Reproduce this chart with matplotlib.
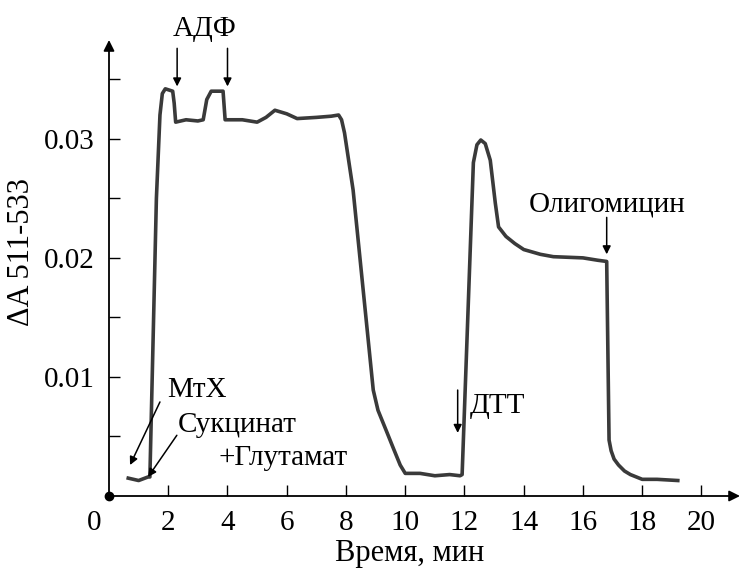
import numpy as np
import matplotlib.pyplot as plt

# trace: time (min) and absorbance difference
time_min = [0.65, 1.0, 1.32, 1.38, 1.6, 1.72, 1.8, 1.9, 2.15, 2.2, 2.25, 2.6,
            3.0, 3.18, 3.3, 3.45, 3.85, 3.92, 4.5, 5.0, 5.3, 5.6, 6.0, 6.35,
            7.0, 7.5, 7.75, 7.85, 7.95, 8.24, 8.58, 8.92, 9.08, 9.39, 9.6,
            9.83, 10.0, 10.5, 11.0, 11.5, 11.85, 11.92, 12.3, 12.42, 12.55,
            12.7, 12.87, 13.04, 13.15, 13.4, 13.7, 14.0, 14.56, 15.0, 16.0,
            16.5, 16.8, 16.88, 16.95, 17.05, 17.2, 17.4, 17.6, 17.8, 18.0,
            18.5, 19.2]
delta_a = [0.0015, 0.0013, 0.0016, 0.0016, 0.0250, 0.0320, 0.0338, 0.0342,
           0.0340, 0.0330, 0.0314, 0.0316, 0.0315, 0.0316, 0.0333, 0.0340,
           0.0340, 0.0316, 0.0316, 0.0314, 0.0318, 0.0324, 0.0321, 0.0317,
           0.0318, 0.0319, 0.0320, 0.0316, 0.0305, 0.0257, 0.0173, 0.0089,
           0.0072, 0.0053, 0.0040, 0.0026, 0.0019, 0.0019, 0.0017, 0.0018,
           0.0017, 0.0018, 0.0280, 0.0295, 0.0299, 0.0296, 0.0282, 0.0246,
           0.0226, 0.0218, 0.0212, 0.0207, 0.0203, 0.0201, 0.0200, 0.0198,
           0.0197, 0.0047, 0.0038, 0.0031, 0.0026, 0.0021, 0.0018, 0.0016,
           0.0014, 0.0014, 0.0013]

x_ticks = [2, 4, 6, 8, 10, 12, 14, 16, 18, 20]
y_major = [0.01, 0.02, 0.03]
y_minor = [0.005, 0.015, 0.025, 0.035]

plt.rcParams['font.family'] = ['Liberation Serif', 'DejaVu Serif']
fs = 21

fig = plt.figure(figsize=(7.42, 5.70), dpi=100)
ax = fig.add_axes([109 / 742, 74 / 570, 631 / 742, 456 / 570])
ax.set_xlim(0, 21.3)
ax.set_ylim(0, 0.0383)

ax.plot(time_min, delta_a, color='#3a3a3a', lw=2.6, solid_joinstyle='round')

# axes with arrow heads
for s in ['top', 'right', 'left', 'bottom']:
    ax.spines[s].set_visible(False)
ax.annotate('', xy=(1.0, 0), xytext=(0, 0), xycoords='axes fraction',
            arrowprops=dict(arrowstyle='-|>', color='black', lw=1.3,
                            mutation_scale=16, shrinkA=0, shrinkB=0))
ax.annotate('', xy=(0, 1.0), xytext=(0, 0), xycoords='axes fraction',
            arrowprops=dict(arrowstyle='-|>', color='black', lw=1.3,
                            mutation_scale=16, shrinkA=0, shrinkB=0))
ax.plot([0], [0], 'o', color='black', ms=6, clip_on=False)

ax.set_xticks(x_ticks)
ax.set_xticklabels([str(v) for v in x_ticks])
ax.set_yticks(y_major)
ax.set_yticklabels(['0.01', '0.02', '0.03'])
ax.set_yticks(y_minor, minor=True)
ax.tick_params(axis='both', which='both', direction='in', length=8,
               width=1, labelsize=fs, pad=10)
ax.annotate('0', xy=(-0.5, 0), xytext=(0, -10), textcoords='offset points',
            fontsize=fs, ha='center', va='top', annotation_clip=False)

# annotations
arr = dict(arrowstyle='-|>', color='black', lw=1.1, mutation_scale=12,
           shrinkA=0, shrinkB=0)
ax.text(3.24, 0.0392, 'АДФ', fontsize=fs, ha='center', va='center',
        clip_on=False)
ax.annotate('', xy=(2.3, 0.0344), xytext=(2.3, 0.0376), arrowprops=arr,
            annotation_clip=False)
ax.annotate('', xy=(4.0, 0.0344), xytext=(4.0, 0.0376), arrowprops=arr,
            annotation_clip=False)

ax.text(1.96, 0.0089, 'МтХ', fontsize=fs, ha='left', va='center')
ax.annotate('', xy=(0.71, 0.0026), xytext=(1.72, 0.0079), arrowprops=arr)
ax.text(2.33, 0.0060, 'Сукцинат', fontsize=fs, ha='left', va='center')
ax.annotate('', xy=(1.32, 0.0016), xytext=(2.29, 0.0051), arrowprops=arr)
ax.text(3.68, 0.0032, '+Глутамат', fontsize=fs, ha='left', va='center')

ax.text(12.18, 0.0076, 'ДТТ', fontsize=fs, ha='left', va='center')
ax.annotate('', xy=(11.77, 0.0053), xytext=(11.77, 0.0089), arrowprops=arr)

ax.text(16.83, 0.0245, 'Олигомицин', fontsize=fs, ha='center', va='center')
ax.annotate('', xy=(16.8, 0.0203), xytext=(16.8, 0.0234), arrowprops=arr)

fig.text(22 / 742, 1 - 252 / 570, 'ΔA 511-533', fontsize=22, rotation=90,
         ha='center', va='center')
fig.text(410 / 742, 1 - 553 / 570, 'Время, мин', fontsize=22,
         ha='center', va='center')

fig.savefig('out.png', dpi=100)
